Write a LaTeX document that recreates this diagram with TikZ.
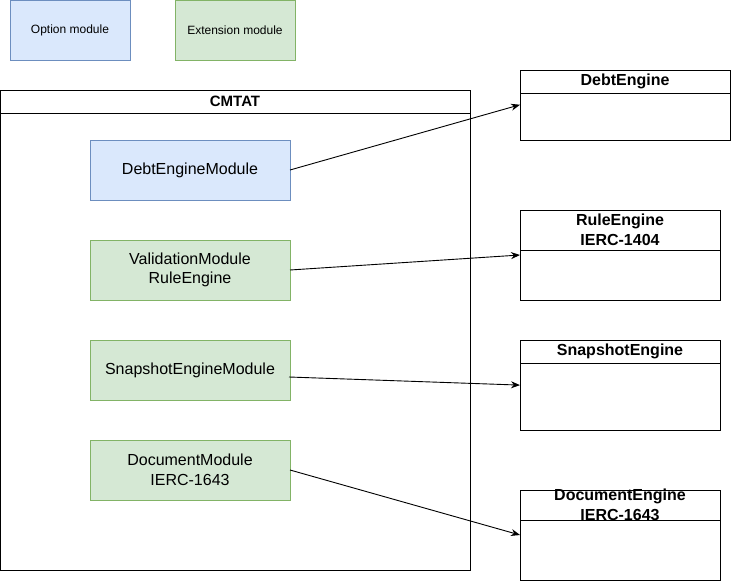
\documentclass[tikz,border=0pt]{standalone}
\usepackage{fontspec}
\setmainfont{Liberation Sans}
\usepackage{tikz}
\usetikzlibrary{positioning,calc,arrows.meta}
\definecolor{optfill}{RGB}{218,232,252}
\definecolor{optline}{RGB}{108,142,191}
\definecolor{extfill}{RGB}{213,232,212}
\definecolor{extline}{RGB}{130,179,102}

\begin{document}
\begin{tikzpicture}[x=1pt,y=-1pt,
  opt/.style={rectangle, draw=optline, fill=optfill, line width=1pt, minimum width=200pt, minimum height=60pt, inner sep=0pt, outer sep=0pt, align=center, font=\fontsize{16}{19.5}\selectfont},
  ext/.style={opt, draw=extline, fill=extfill},
  legend/.style={minimum width=120pt, font=\fontsize{12}{14}\selectfont},
  head/.style={rectangle, draw, fill=white, line width=1pt, inner sep=0pt, outer sep=0pt, align=center, font=\bfseries\fontsize{16}{19.5}\selectfont},
  body/.style={rectangle, draw, fill=white, line width=1pt, inner sep=0pt, outer sep=0pt},
  link/.style={-{Stealth[length=9pt,width=7pt]}, line width=0.9pt}]
\useasboundingbox (0,0) rectangle (731,581);

% Legend
\node[opt, legend] (optmod) at (70,30) {Option module};
\node[ext, legend] (extmod) at (235,30) {Extension module};

% CMTAT
\node[head, minimum width=470pt, minimum height=23pt, font=\bfseries\fontsize{15}{18}\selectfont] (cmtatH) at (235,101.5) {CMTAT};
\node[body, minimum width=470pt, minimum height=457pt, below=0pt of cmtatH] (cmtatB) {};

% Modules
\node[opt] (debtM) at (190,170) {DebtEngineModule};
\node[ext] (valM) at (190,270) {ValidationModule\\RuleEngine};
\node[ext] (snapM) at (190,370) {SnapshotEngineModule};
\node[ext] (docM) at (190,470) {DocumentModule\\IERC-1643};

% Engines
\node[head, minimum width=210pt, minimum height=23pt] (debtH) at (625,81.5) {DebtEngine};
\node[body, minimum width=210pt, minimum height=47pt, below=0pt of debtH] (debtB) {};
\node[head, minimum width=200pt, minimum height=40pt] (ruleH) at (620,230) {RuleEngine\\IERC-1404};
\node[body, minimum width=200pt, minimum height=50pt, below=0pt of ruleH] (ruleB) {};
\node[head, minimum width=200pt, minimum height=23pt] (snapH) at (620,351.5) {SnapshotEngine};
\node[body, minimum width=200pt, minimum height=67pt, below=0pt of snapH] (snapB) {};
\node[head, minimum width=200pt, minimum height=30pt, label={[align=center, font=\bfseries\fontsize{16}{19.5}\selectfont]center:DocumentEngine\\IERC-1643}] (docH) at (620,505) {};
\node[body, minimum width=200pt, minimum height=60pt, below=0pt of docH] (docB) {};

%Links
\draw[link] (debtM.east) -- ($(debtB.north west)!0.25!(debtB.south west)$);
\draw[link] (valM.east) -- ($(ruleB.north west)!0.1!(ruleB.south west)$);
\draw[link] ($(snapM.east)+(-1,7)$) -- ($(snapB.north west)!0.33!(snapB.south west)$);
\draw[link] (docM.east) -- ($(docB.north west)!0.25!(docB.south west)$);
\end{tikzpicture}
\end{document}
